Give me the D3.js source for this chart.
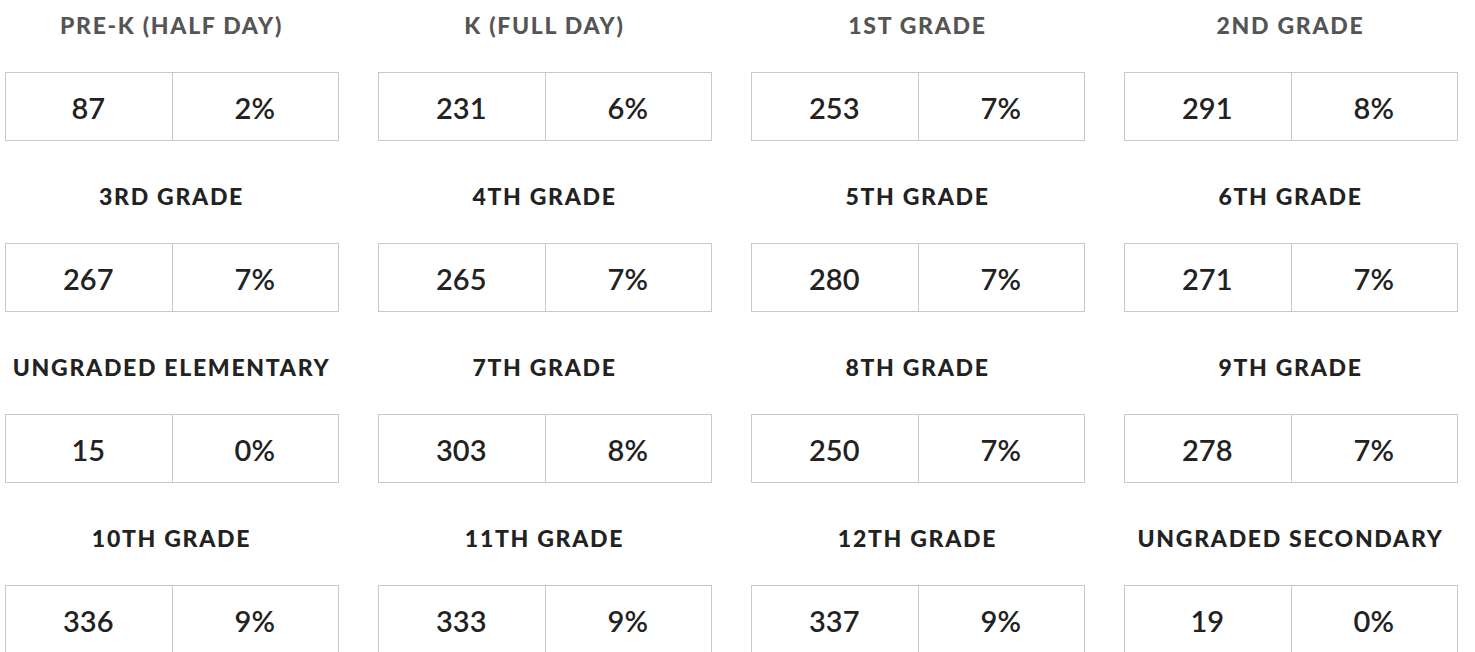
<!DOCTYPE html>
<html><head><meta charset="utf-8">
<script src="https://cdn.jsdelivr.net/npm/d3@7"></script>
<style>
html,body{margin:0;padding:0;background:#fff;}
svg{display:block;}
</style></head>
<body>
<svg id="chart" width="1475" height="652"></svg>
<script>
const categories = ["PRE-K (HALF DAY)","K (FULL DAY)","1ST GRADE","2ND GRADE",
  "3RD GRADE","4TH GRADE","5TH GRADE","6TH GRADE",
  "UNGRADED ELEMENTARY","7TH GRADE","8TH GRADE","9TH GRADE",
  "10TH GRADE","11TH GRADE","12TH GRADE","UNGRADED SECONDARY"];
const counts = [87,231,253,291,267,265,280,271,15,303,250,278,336,333,337,19];
const percents = ["2%","6%","7%","8%","7%","7%","7%","7%","0%","8%","7%","7%","9%","9%","9%","0%"];

const data = categories.map((c,i)=>({name:c,count:counts[i],pct:percents[i],col:i%4,row:Math.floor(i/4)}));

const svg = d3.select("#chart");
const x = d3.scaleLinear().domain([0,1]).range([5,378]);
const y = d3.scaleLinear().domain([0,1]).range([72,243]);
const boxH = 68;
const bw = 333;

const g = svg.selectAll("g.cell").data(data).join("g")
  .attr("class","cell")
  .attr("transform",d=>`translate(${Math.round(x(d.col))},${Math.round(y(d.row))})`);

g.append("text")
  .attr("x",bw/2).attr("y",-47)
  .attr("text-anchor","middle").attr("dominant-baseline","central")
  .style("font-family","Lato, 'Open Sans', sans-serif")
  .style("font-weight","900").style("font-size","23px").style("letter-spacing","1.7px")
  .style("fill",d=>d.row===0?"#555":"#222")
  .text(d=>d.name);

g.append("rect").attr("x",0.5).attr("y",0.5).attr("width",bw).attr("height",boxH)
  .attr("fill","#fff").attr("stroke","#c9c9c9").attr("stroke-width",1);
g.append("line").attr("x1",Math.round(bw/2)+0.5).attr("x2",Math.round(bw/2)+0.5).attr("y1",0.5).attr("y2",boxH+0.5)
  .attr("stroke","#c9c9c9");

g.append("text").attr("x",bw/4).attr("y",boxH/2+1)
  .attr("text-anchor","middle").attr("dominant-baseline","central")
  .style("font-family","Lato, sans-serif").style("font-weight","600").style("font-size","29px")
  .style("fill","#222").text(d=>d.count);
g.append("text").attr("x",bw*3/4).attr("y",boxH/2+1)
  .attr("text-anchor","middle").attr("dominant-baseline","central")
  .style("font-family","Lato, sans-serif").style("font-weight","600").style("font-size","29px")
  .style("fill","#222").text(d=>d.pct);
</script>
</body></html>
